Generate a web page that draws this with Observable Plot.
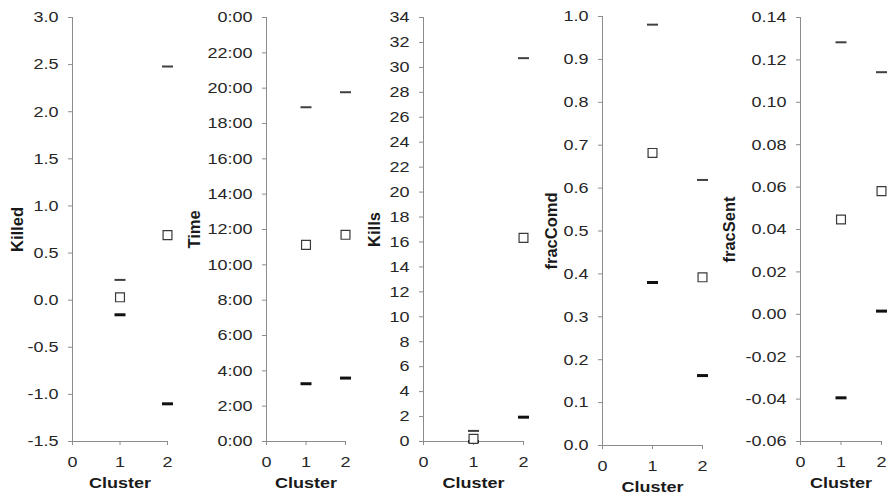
<!DOCTYPE html>
<html><head><meta charset="utf-8">
<script src="https://cdn.jsdelivr.net/npm/d3@7"></script>
<script src="https://cdn.jsdelivr.net/npm/@observablehq/plot@0.6"></script>
<style>
body{margin:0;background:#fff}
#chart{position:relative;width:889px;height:497px;overflow:hidden;background:#fff}
#chart svg{position:absolute;top:0;overflow:visible}
</style></head><body><div id="chart"></div>
<script>
const clusters = [1, 2];
const clusterTicks = [0, 1, 2];
const xLabel = "Cluster";

const killedMean = [0.03, 0.69];
const killedHigh = [0.215, 2.48];
const killedLow  = [-0.155, -1.10];
const killedTicks = [-1.5, -1, -0.5, 0, 0.5, 1, 1.5, 2, 2.5, 3];

const timeMean = [11.13, 11.70];
const timeHigh = [18.92, 19.77];
const timeLow  = [3.27, 3.59];
const timeTicks = [0, 2, 4, 6, 8, 10, 12, 14, 16, 18, 20, 22, 24];

const killsMean = [0.21, 16.33];
const killsHigh = [0.85, 30.74];
const killsLow  = [0.0, 1.95];
const killsTicks = [0, 2, 4, 6, 8, 10, 12, 14, 16, 18, 20, 22, 24, 26, 28, 30, 32, 34];

const comdMean = [0.682, 0.392];
const comdHigh = [0.981, 0.619];
const comdLow  = [0.38, 0.163];
const comdTicks = [0, 0.1, 0.2, 0.3, 0.4, 0.5, 0.6, 0.7, 0.8, 0.9, 1.0];

const sentMean = [0.0447, 0.0581];
const sentHigh = [0.1283, 0.1142];
const sentLow  = [-0.0394, 0.0015];
const sentTicks = [-0.06, -0.04, -0.02, 0, 0.02, 0.04, 0.06, 0.08, 0.10, 0.12, 0.14];

const panels = [
  {label: "Killed", mean: killedMean, high: killedHigh, low: killedLow, ticks: killedTicks,
   format: d => d.toFixed(1), left: 0, width: 180, ml: 72, mr: 13, mt: 17, mb: 56, lo: 55},
  {label: "Time", mean: timeMean, high: timeHigh, low: timeLow, ticks: timeTicks,
   format: d => (d % 24) + ":00", left: 180, width: 180, ml: 86, mr: 15, mt: 17, mb: 56, lo: 72},
  {label: "Kills", mean: killsMean, high: killsHigh, low: killsLow, ticks: killsTicks,
   format: d => String(d), left: 360, width: 180, ml: 63, mr: 17, mt: 17, mb: 56, lo: 49},
  {label: "fracComd", mean: comdMean, high: comdHigh, low: comdLow, ticks: comdTicks,
   format: d => d.toFixed(1), left: 540, width: 180, ml: 62, mr: 18, mt: 16, mb: 52, lo: 51},
  {label: "fracSent", mean: sentMean, high: sentHigh, low: sentLow, ticks: sentTicks,
   format: d => d.toFixed(2), left: 720, width: 169, ml: 80, mr: 8, mt: 17, mb: 56, lo: 71}
];

const dash = {draw(ctx) { ctx.moveTo(-5.5, 0); ctx.lineTo(5.5, 0); }};
const axisColor = "#8c8c8c";
const textColor = "#262626";
const stretch = 1.2;
const chart = document.getElementById("chart");

for (const p of panels) {
  const rows = clusters.map((c, i) => ({cluster: c, mean: p.mean[i], high: p.high[i], low: p.low[i]}));
  const domain = [p.ticks[0], p.ticks[p.ticks.length - 1]];
  const svg = Plot.plot({
    width: p.width, height: 497,
    marginLeft: p.ml, marginRight: p.mr, marginTop: p.mt, marginBottom: p.mb,
    style: {fontFamily: "'Liberation Sans', Arial, sans-serif", background: "transparent", overflow: "visible"},
    x: {domain: [clusterTicks[0], clusterTicks[clusterTicks.length - 1]], label: null},
    y: {domain, label: null},
    marks: [
      Plot.ruleX([clusterTicks[0]], {stroke: axisColor}),
      Plot.ruleY([domain[0]], {stroke: axisColor}),
      Plot.axisY({ticks: p.ticks, tickFormat: p.format, tickSize: 4, tickPadding: 10, fontSize: 15,
                  stroke: axisColor, fill: textColor, label: null}),
      Plot.axisX({ticks: clusterTicks, tickFormat: d => String(d), tickSize: 4, tickPadding: 11, fontSize: 15,
                  stroke: axisColor, fill: textColor, label: null}),
      Plot.dot(rows, {x: "cluster", y: "high", symbol: dash, fill: "none", stroke: "#404040", strokeWidth: 2}),
      Plot.dot(rows, {x: "cluster", y: "low", symbol: dash, fill: "none", stroke: "#111", strokeWidth: 3}),
      Plot.dot(rows, {x: "cluster", y: "mean", symbol: "square", r: 5, fill: "white", stroke: "#3a3a3a", strokeWidth: 1.2}),
      Plot.text([p.label], {text: d => d, frameAnchor: "left", textAnchor: "middle", dx: -p.lo, rotate: -90,
                            fontSize: 16.5, fontWeight: "bold", fill: "#1a1a1a"}),
      Plot.text([xLabel], {text: d => d, frameAnchor: "bottom", dy: 46, fontSize: 15, fontWeight: "bold", fill: "#1a1a1a"})
    ]
  });
  svg.style.left = p.left + "px";
  chart.appendChild(svg);
  // widen the glyphs like the reference's horizontally stretched lettering
  svg.querySelectorAll("text").forEach(t => {
    const g = t.closest("g");
    const lab = g && g.getAttribute("aria-label") || "";
    if (lab.includes("tick label") || t.textContent === xLabel) {
      const w = t.getComputedTextLength();
      t.setAttribute("textLength", (w * stretch).toFixed(2));
      t.setAttribute("lengthAdjust", "spacingAndGlyphs");
    }
  });
}
</script></body></html>
